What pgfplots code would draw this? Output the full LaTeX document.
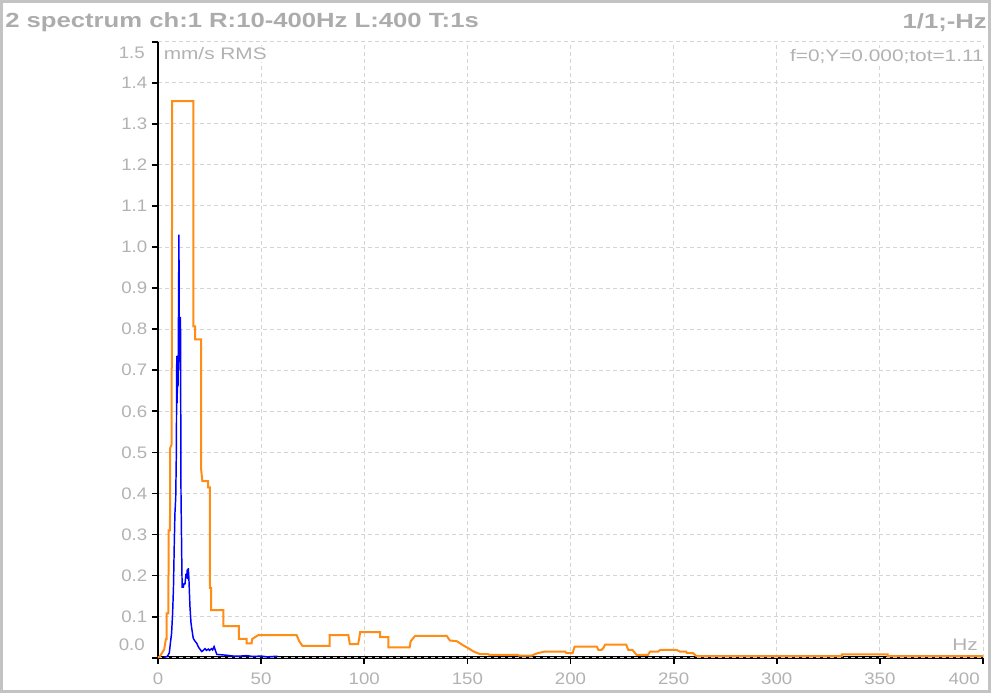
\documentclass[border=0pt]{standalone}
\usepackage{pgfplots}
\pgfplotsset{compat=1.18}
\usepackage{fontspec}
\setmainfont{Liberation Sans}
\newfontfamily\tickfont[FakeStretch=1.12]{Liberation Sans}
\newfontfamily\txtfont[FakeStretch=1.25]{Liberation Sans}
\definecolor{txtgray}{RGB}{178,178,178}
\definecolor{titlegray}{RGB}{172,172,172}
\definecolor{gridgray}{RGB}{212,212,212}
\definecolor{framegray}{RGB}{195,195,195}
\definecolor{sporange}{RGB}{255,140,20}
\definecolor{spblue}{RGB}{0,0,255}
\begin{document}
\begin{tikzpicture}
\begin{axis}[
  scale only axis, width=618.75pt, height=462pt,
  xmin=0, xmax=400, ymin=0, ymax=1.5,
  axis lines*=left,
  axis line style={line width=2.2pt, black},
  xtick={0,50,...,350},
  extra x ticks={400}, extra x tick labels={},
  ytick={0.1,0.2,0.3,0.4,0.5,0.6,0.7,0.8,0.9,1.0,1.1,1.2,1.3,1.4},
  extra y ticks={0,1.5}, extra y tick labels={},
  grid=major,
  grid style={gridgray, line width=0.75pt, dash pattern=on 3pt off 2.25pt},
  tick align=outside, major tick length=4.5pt,
  tick style={black, line width=1.3pt},
  /pgf/number format/assume math mode=true,
  ticklabel style={font=\tickfont\fontsize{12.5pt}{14pt}\selectfont, text=txtgray},
  yticklabel style={/pgf/number format/.cd, fixed, fixed zerofill, precision=1},
  xticklabel style={yshift=-3pt, /pgf/number format/.cd, fixed, precision=0},
  clip=false,
]
\addplot[sporange, line width=1.5pt] coordinates {
(0,0.0) (1.0,0.004) (2.0,0.012) (3.0,0.02) (3.8,0.045) (4.2,0.045) (4.2,0.108) (5.0,0.108)
(5.2,0.31) (5.8,0.31) (5.9,0.51) (6.6,0.52) (6.9,1.355) (17.1,1.355) (17.1,0.807) (18.0,0.807)
(18.0,0.775) (20.9,0.775) (20.9,0.46) (21.5,0.43) (24.3,0.43) (24.3,0.415) (25.2,0.415)
(25.2,0.17) (25.8,0.17) (25.8,0.116) (31.7,0.116) (31.7,0.077) (39.2,0.077) (39.2,0.046)
(43,0.046) (43,0.035) (45.4,0.035) (45.6,0.045) (47,0.05) (48.7,0.055) (67.2,0.055)
(68.5,0.04) (70,0.029) (83.2,0.029) (83.2,0.055) (92.3,0.055) (93,0.033) (97,0.033)
(97.5,0.045) (98,0.062) (107.7,0.062) (107.7,0.05) (111.7,0.05) (111.7,0.025) (122,0.025)
(122.5,0.04) (124.6,0.053) (140,0.053) (141.5,0.042) (145,0.04) (148,0.03) (150.5,0.023)
(153,0.015) (156,0.009) (160,0.009) (160.5,0.007) (174.6,0.007) (175,0.005) (181,0.005)
(184,0.011) (187.7,0.015) (197.4,0.015) (198,0.011) (201,0.011) (202,0.027) (212.8,0.027)
(213.5,0.019) (215,0.019) (216,0.024) (216.8,0.032) (227,0.032) (228,0.019) (230,0.019)
(232,0.007) (237.6,0.007) (238.6,0.015) (242.5,0.015) (243.5,0.019) (251.5,0.019) (253,0.015)
(256,0.015) (256.5,0.011) (259.5,0.011) (261,0.004) (331.6,0.004) (331.6,0.008) (353.7,0.008)
(353.7,0.004) (400,0.004)
};
\addplot[spblue, line width=1.1pt] coordinates {
(3.0,0.001) (4.5,0.003) (5.5,0.012) (6.0,0.035) (6.6,0.06) (7.1,0.11) (7.5,0.17) (7.9,0.28)
(8.2,0.35) (8.6,0.39) (8.9,0.50) (9.1,0.735) (9.3,0.62) (9.5,0.735) (9.7,0.66) (9.9,0.80)
(10.15,1.03) (10.35,0.72) (10.55,0.83) (10.75,0.70) (10.9,0.83) (11.15,0.40) (11.5,0.25)
(11.7,0.172) (12.3,0.172) (12.6,0.18) (13.1,0.18) (13.5,0.20) (13.9,0.197) (14.2,0.215)
(14.4,0.205) (14.7,0.218) (15.0,0.19) (15.5,0.124) (16.0,0.085) (16.4,0.07) (17.1,0.047)
(18.0,0.04) (18.8,0.035) (19.5,0.027) (20.0,0.023) (21.2,0.015) (22.0,0.018) (22.8,0.022)
(23.5,0.018) (24.4,0.021) (25.0,0.018) (26.0,0.022) (26.5,0.019) (27.2,0.027) (28.5,0.008)
(31,0.007) (33.3,0.006) (36.5,0.004) (40,0.004) (43,0.005) (46,0.003) (50,0.004) (53,0.002)
(56,0.003) (58,0.003)
};
\coordinate (O) at (rel axis cs:0,0);
\end{axis}
\begin{scope}[shift={(O)}, x=0.75pt, y=0.75pt]
\draw[framegray, line width=2.25pt] (-156.5,-33.8) rectangle (831.5,656.2);
\node[anchor=base west, inner sep=0pt, text=titlegray, font=\txtfont\bfseries\fontsize{15.4pt}{17pt}\selectfont] at (-153,629.7) {2 spectrum ch:1 R:10-400Hz L:400 T:1s};
\node[anchor=base east, inner sep=0pt, text=titlegray, font=\txtfont\bfseries\fontsize{15.4pt}{17pt}\selectfont] at (829,628.7) {1/1;-Hz};
\node[anchor=base west, inner sep=1.5pt, fill=white, text=txtgray, font=\txtfont\fontsize{12.5pt}{14pt}\selectfont] at (3.5,597.7) {mm/s RMS};
\node[anchor=base east, inner sep=1.5pt, fill=white, text=txtgray, font=\txtfont\fontsize{12.5pt}{14pt}\selectfont] at (828,595.7) {f=0;Y=0.000;tot=1.11};
\node[anchor=base east, inner sep=0pt, text=txtgray, font=\txtfont\fontsize{12.5pt}{14pt}\selectfont] at (820,7.7) {Hz};
\node[anchor=east, inner sep=0pt, text=txtgray, font=\tickfont\fontsize{12.5pt}{14pt}\selectfont] at (-13,13.2) {0.0};
\node[anchor=east, inner sep=0pt, text=txtgray, font=\tickfont\fontsize{12.5pt}{14pt}\selectfont] at (-13,605) {1.5};
\node[anchor=base east, inner sep=0pt, text=txtgray, font=\tickfont\fontsize{12.5pt}{14pt}\selectfont] at (822,-26.5) {400};
\pgfresetboundingbox
\useasboundingbox (-158,-35.3) rectangle (833,657.7);
\end{scope}
\end{tikzpicture}
\end{document}
